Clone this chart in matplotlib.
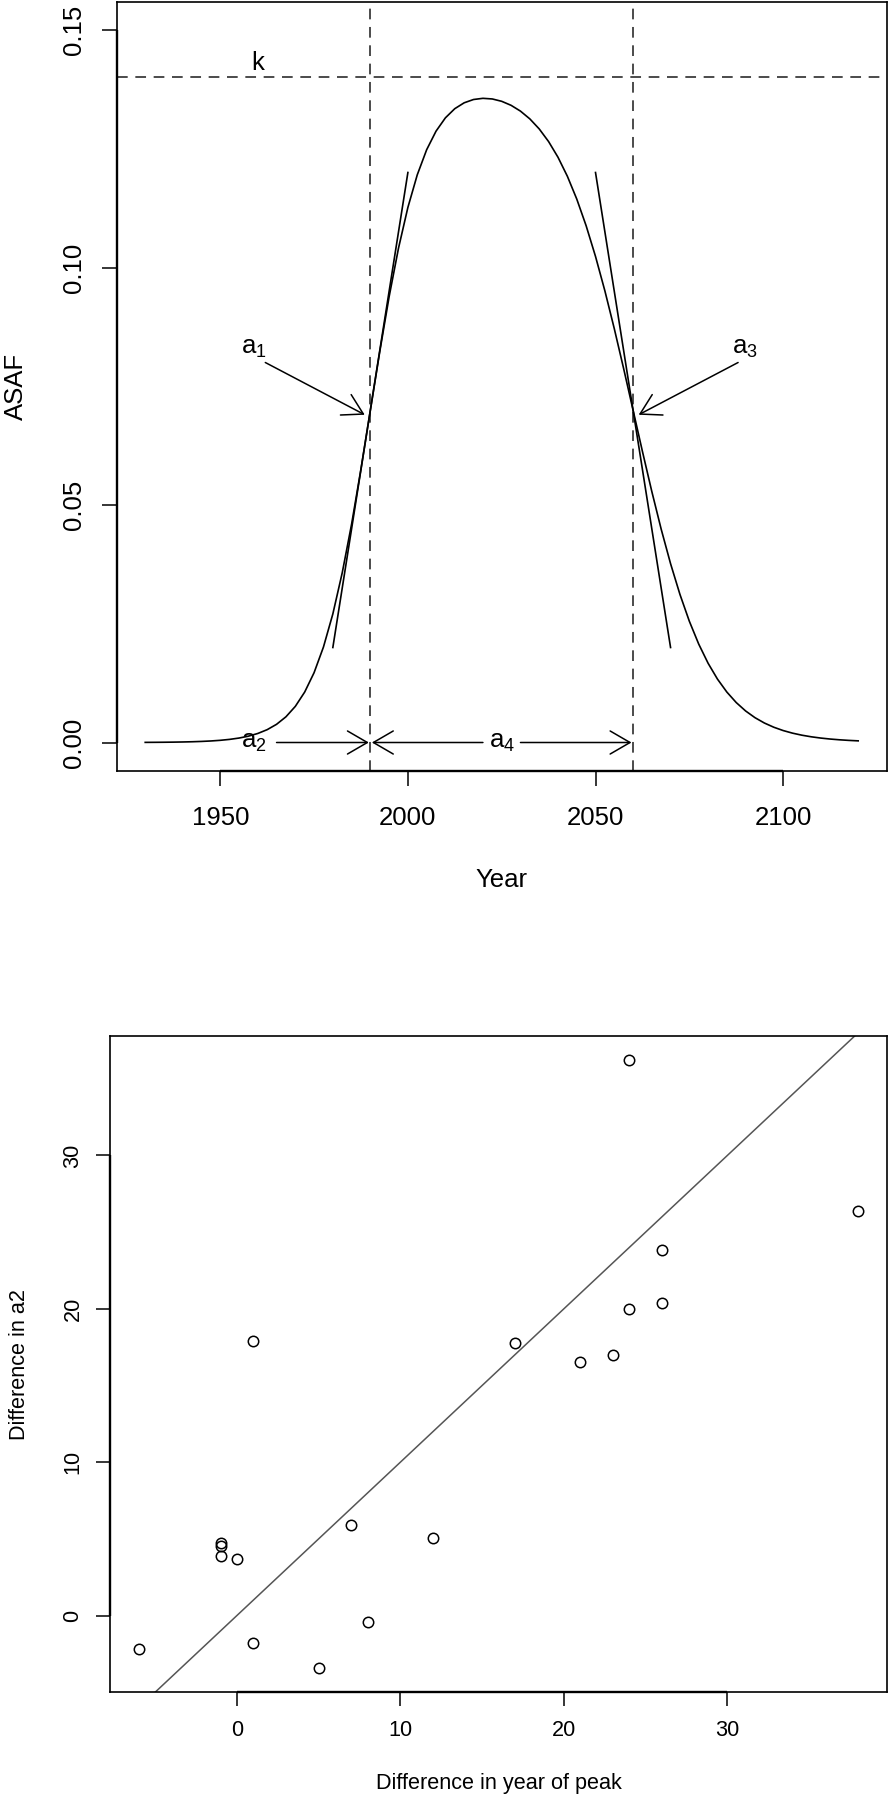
import matplotlib
matplotlib.use('Agg')
import matplotlib.pyplot as plt
import matplotlib.transforms as mtransforms

plt.rcParams['font.family'] = ['Liberation Sans', 'DejaVu Sans']
plt.rcParams['mathtext.fontset'] = 'custom'
plt.rcParams['mathtext.rm'] = 'Liberation Sans'
plt.rcParams['mathtext.it'] = 'Liberation Sans:italic'

W, H, DPI = 888, 1800, 100

# ---------------- top panel data ----------------
years = [1930, 1932.5, 1935, 1937.5, 1940, 1942.5, 1945, 1947.5, 1950, 1952.5,
         1955, 1957.5, 1960, 1962.5, 1965, 1967.5, 1970, 1972.5, 1975, 1977.5,
         1980, 1982.5, 1985, 1987.5, 1990, 1992.5, 1995, 1997.5, 2000, 2002.5,
         2005, 2007.5, 2010, 2012.5, 2015, 2017.5, 2020, 2022.5, 2025, 2027.5,
         2030, 2032.5, 2035, 2037.5, 2040, 2042.5, 2045, 2047.5, 2050, 2052.5,
         2055, 2057.5, 2060, 2062.5, 2065, 2067.5, 2070, 2072.5, 2075, 2077.5,
         2080, 2082.5, 2085, 2087.5, 2090, 2092.5, 2095, 2097.5, 2100, 2102.5,
         2105, 2107.5, 2110, 2112.5, 2115, 2117.5, 2120]
asaf = [0.0000265, 0.0000379, 0.0000541, 0.0000774, 0.000111, 0.000158, 0.000226,
        0.000322, 0.000460, 0.000657, 0.000937, 0.001335, 0.001900, 0.002701,
        0.003829, 0.005410, 0.007604, 0.010622, 0.014698, 0.020103, 0.027064,
        0.035723, 0.045982, 0.057596, 0.069936, 0.082266, 0.093850, 0.104074,
        0.112651, 0.119513, 0.124792, 0.128705, 0.131511, 0.133437, 0.134675,
        0.135369, 0.135616, 0.135481, 0.134987, 0.134142, 0.132922, 0.131285,
        0.129172, 0.126508, 0.123214, 0.119208, 0.114416, 0.108793, 0.102328,
        0.095072, 0.087136, 0.078700, 0.069997, 0.061295, 0.052856, 0.044915,
        0.037652, 0.031178, 0.025540, 0.020727, 0.016688, 0.013349, 0.010620,
        0.008412, 0.006640, 0.005226, 0.004104, 0.003217, 0.002518, 0.001969,
        0.001538, 0.001201, 0.000937, 0.000731, 0.000570, 0.000444, 0.000346]
k_level = 0.14
inflection_years = [1990, 2060]
tangent_left_x = [1980, 2000]
tangent_left_y = [0.02, 0.12]
tangent_right_x = [2050, 2070]
tangent_right_y = [0.12, 0.02]
top_xticks = [1950, 2000, 2050, 2100]
top_yticks = [0.00, 0.05, 0.10, 0.15]
top_yticklabels = ['0.00', '0.05', '0.10', '0.15']

# ---------------- bottom panel data ----------------
peak_diff = [-6, 24, 38, 26, 26, 24, 1, 17, 21, 23, 7, 12, -1, -1, -1, 0, 1, 5, 8]
a2_diff = [-2.2, 36.2, 26.4, 23.8, 20.4, 20.0, 17.9, 17.8, 16.5, 17.0, 5.9, 5.05,
           4.7, 4.55, 3.85, 3.7, -1.8, -3.4, -0.4]
bot_xticks = [0, 10, 20, 30]
bot_yticks = [0, 10, 20, 30]

fig = plt.figure(figsize=(W / DPI, H / DPI), dpi=DPI)


def px_axes(l, t, r, b):
    return fig.add_axes([l / W, 1 - b / H, (r - l) / W, (b - t) / H])


def r_style(ax, fs, ticklen, xpad, ypad):
    for s in ax.spines.values():
        s.set_linewidth(1.2)
        s.set_color('black')
    ax.tick_params(direction='out', length=ticklen, width=1.1, labelsize=fs,
                   color='black')
    ax.tick_params(axis='x', pad=xpad)
    ax.tick_params(axis='y', pad=ypad, labelrotation=90)
    for lab in ax.get_yticklabels():
        lab.set_va('center')


def axis_segment(ax, lo, hi, which):
    if which == 'x':
        tr = mtransforms.blended_transform_factory(ax.transData, ax.transAxes)
        ax.plot([lo, hi], [0, 0], transform=tr, color='black', lw=1.7,
                clip_on=False, solid_capstyle='butt', zorder=5)
    else:
        tr = mtransforms.blended_transform_factory(ax.transAxes, ax.transData)
        ax.plot([0, 0], [lo, hi], transform=tr, color='black', lw=1.7,
                clip_on=False, solid_capstyle='butt', zorder=5)


# ======================= TOP PANEL =======================
FS_TOP = 18.5
ax1 = px_axes(116.7, 1.5, 886.7, 771)
ax1.set_xlim(1922.4, 2127.6)
ax1.set_ylim(-0.006, 0.156)
ax1.set_xticks(top_xticks)
ax1.set_yticks(top_yticks)
ax1.set_yticklabels(top_yticklabels)
r_style(ax1, FS_TOP, 10.8, 14.5, 11)
axis_segment(ax1, top_xticks[0], top_xticks[-1], 'x')
axis_segment(ax1, top_yticks[0], top_yticks[-1], 'y')

ax1.plot(years, asaf, color='black', lw=1.2)
dash = (0, (7, 5))
ax1.axhline(k_level, color='#1a1a1a', lw=1.1, ls=dash)
for xv in inflection_years:
    ax1.axvline(xv, color='#1a1a1a', lw=1.1, ls=dash)
ax1.plot(tangent_left_x, tangent_left_y, color='black', lw=1.2)
ax1.plot(tangent_right_x, tangent_right_y, color='black', lw=1.2)

astyle = '->,head_length=1.43,head_width=0.83'


def arrow(ax, x0, y0, x1, y1):
    ax.annotate('', xy=(x1, y1), xytext=(x0, y0),
                arrowprops=dict(arrowstyle=astyle, mutation_scale=10,
                                color='black', lw=1.1, shrinkA=0, shrinkB=0))


arrow(ax1, 1962, 0.080, 1988.5, 0.069)
arrow(ax1, 2088, 0.080, 2061.5, 0.069)
arrow(ax1, 1965, 0.0, 1989.6, 0.0)
arrow(ax1, 2020, 0.0, 1990.4, 0.0)
arrow(ax1, 2030, 0.0, 2059.6, 0.0)

ax1.text(1960, 0.1405, 'k', fontsize=FS_TOP, ha='center', va='bottom')
ax1.text(1959, 0.083, r'$\mathrm{a}_1$', fontsize=FS_TOP, ha='center', va='center')
ax1.text(2089.8, 0.083, r'$\mathrm{a}_3$', fontsize=FS_TOP, ha='center', va='center')
ax1.text(1959, 0.0, r'$\mathrm{a}_2$', fontsize=FS_TOP, ha='center', va='center')
ax1.text(2025, 0.0, r'$\mathrm{a}_4$', fontsize=FS_TOP, ha='center', va='center')

fig.text(16 / W, 1 - 386 / H, 'ASAF', fontsize=FS_TOP, rotation=90,
         ha='center', va='center')
fig.text(501.7 / W, 1 - 880 / H, 'Year', fontsize=FS_TOP, ha='center', va='center')

# ======================= BOTTOM PANEL =======================
FS_BOT = 15.6
ax2 = px_axes(110, 1036, 887, 1692)
ax2.set_xlim(-7.76, 39.76)
ax2.set_ylim(-4.984, 37.784)
ax2.set_xticks(bot_xticks)
ax2.set_yticks(bot_yticks)
r_style(ax2, FS_BOT, 10, 10, 9)
axis_segment(ax2, bot_xticks[0], bot_xticks[-1], 'x')
axis_segment(ax2, bot_yticks[0], bot_yticks[-1], 'y')

ax2.axline((0, 0), slope=1, color='#555555', lw=1.1)
ax2.plot(peak_diff, a2_diff, ls='none', marker='o', mfc='none', mec='black',
         ms=7.5, mew=1.1)

fig.text(20 / W, 1 - 1364 / H, 'Difference in a2', fontsize=FS_BOT, rotation=90,
         ha='center', va='center')
fig.text(498.5 / W, 1 - 1783 / H, 'Difference in year of peak', fontsize=FS_BOT,
         ha='center', va='center')

fig.savefig('out.png', dpi=DPI)
